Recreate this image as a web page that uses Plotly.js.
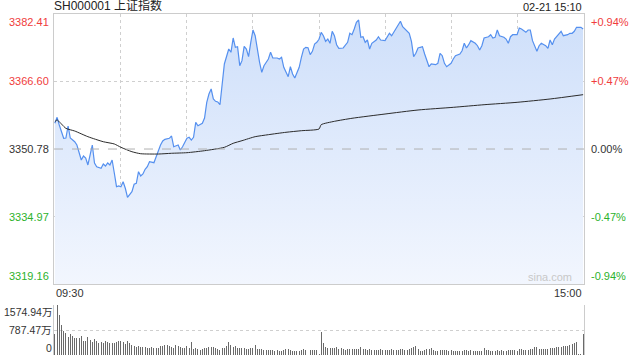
<!DOCTYPE html>
<html>
<head>
<meta charset="utf-8">
<script src="https://cdn.plot.ly/plotly-3.0.1.min.js"></script>
<style>
html,body{margin:0;padding:0;background:#fff;}
#chart{width:640px;height:360px;}
</style>
</head>
<body>
<div id="chart"></div>
<script>
// ---- data ----
const chartTitle = 'SH000001 上证指数';
const stampText = '02-21 15:10';
const prevClose = 3350.78;
const priceTicks = [3382.41, 3366.60, 3350.78, 3334.97, 3319.16];
const priceTickLabels = ['3382.41', '3366.60', '3350.78', '3334.97', '3319.16'];
const pctTickLabels = ['+0.94%', '+0.47%', '0.00%', '-0.47%', '-0.94%'];
const volTicks = [0, 787.47, 1574.94];
const volTickLabels = ['0', '787.47万', '1574.94万'];
const timeLabels = ['09:30', '15:00'];
const gridMinutes = [30, 60, 90, 120, 150, 180, 210];

// minute index (0 = 09:30, 120 = 11:30/13:00, 240 = 15:00)
const priceMinutes = [0,1,2,4,5,6,7,9,10,12,13,14,15,16,17,18,19,21,22,23,24,25,26,27,28,29,30,31,32,33,35,36,37,38,39,40,41,42,43,45,46,47,48,49,50,52,53,54,56,57,58,60,61,62,63,64,65,67,68,69,70,71,72,73,74,75,76,77,79,80,81,82,83,84,85,86,87,88,89,90,91,92,93,94,95,97,98,99,101,102,103,104,106,107,108,109,111,112,113,114,115,116,117,118,119,120,121,122,123,124,125,126,127,128,129,131,133,134,135,136,137,138,139,140,141,142,143,144,146,147,148,150,152,153,154,155,156,157,158,159,161,162,163,164,165,166,167,168,170,171,173,174,175,176,177,178,180,181,182,184,185,186,187,188,189,191,192,193,194,195,197,198,199,200,201,202,204,205,206,207,208,210,211,212,214,215,216,217,219,220,221,223,224,225,226,227,229,230,231,233,234,235,236,237,239,240];
const priceValues = [3356.81,3358.21,3356.41,3353.29,3353.36,3356.17,3353.36,3352.49,3351.72,3348.21,3349.15,3348.68,3347.04,3349.85,3351.72,3347.51,3346.64,3346.26,3347.27,3346.80,3347.51,3347.04,3348.21,3345.16,3341.95,3342.12,3341.95,3343.12,3341.58,3339.47,3340.78,3342.52,3342.75,3345.47,3344.46,3344.93,3346.03,3346.64,3347.81,3347.58,3348.98,3350.32,3351.72,3352.66,3353.06,3353.29,3353.83,3351.32,3351.72,3350.55,3351.32,3353.29,3353.53,3352.89,3353.53,3357.04,3356.24,3356.81,3358.05,3361.72,3363.67,3364.84,3362.50,3361.96,3361.80,3361.16,3366.01,3370.70,3374.21,3373.44,3376.79,3374.61,3374.75,3370.30,3371.47,3374.84,3374.21,3372.41,3375.78,3378.66,3377.33,3373.81,3371.10,3368.75,3370.30,3371.87,3373.44,3372.10,3372.10,3371.87,3372.27,3369.92,3367.72,3370.06,3368.35,3367.42,3369.92,3372.27,3374.21,3374.61,3374.52,3372.88,3373.67,3375.38,3375.78,3376.50,3378.12,3377.33,3376.01,3376.55,3375.55,3378.36,3377.33,3375.22,3374.37,3374.45,3375.78,3377.89,3377.56,3378.90,3380.47,3381.00,3376.95,3377.09,3375.78,3376.32,3374.21,3375.55,3376.32,3377.09,3376.32,3376.16,3377.89,3377.33,3378.12,3378.90,3379.67,3380.70,3379.43,3378.90,3377.89,3376.01,3372.41,3373.20,3374.45,3374.61,3374.75,3373.04,3370.06,3370.70,3370.53,3370.86,3373.20,3372.64,3370.86,3370.06,3370.86,3371.87,3372.64,3373.04,3373.81,3375.55,3374.45,3375.22,3376.16,3375.55,3374.98,3373.98,3374.98,3376.79,3377.09,3377.56,3376.79,3376.95,3378.66,3377.33,3376.95,3376.55,3375.55,3377.09,3377.56,3377.56,3379.13,3378.90,3378.12,3378.66,3378.66,3376.16,3373.67,3374.98,3375.55,3374.98,3374.37,3376.32,3375.22,3376.55,3377.89,3378.36,3377.33,3377.56,3377.89,3377.89,3378.36,3379.29,3379.29,3378.90];

const avgMinutes = [0,1,5,9,15,22,27,30,35,39,47,53,60,68,77,81,85,91,97,105,112,120,121,127,135,150,165,181,195,210,225,240];
const avgValues = [3357.18,3357.58,3355.63,3355.00,3353.67,3352.49,3351.96,3351.18,3350.15,3349.68,3349.61,3349.78,3349.92,3350.39,3351.18,3352.12,3352.73,3353.67,3354.14,3354.70,3355.07,3355.47,3356.48,3357.27,3357.98,3358.98,3359.92,3360.55,3361.16,3361.72,3362.50,3363.51];

// volume per minute, in 万
const volMorning = [651,1574.94,1260,945,756,682,556,651,588,525,
 525,525,588,441,441,556,472,409,504,441,
 378,409,378,441,409,378,378,378,409,441,
 441,409,346,441,378,304,273,241,273,241,
 241,241,210,210,241,210,210,210,273,273,
 304,304,273,241,210,304,273,241,210,210,273,
 210,399,178,210,178,147,178,210,210,241,
 241,241,210,178,147,210,210,273,399,304,
 241,273,210,210,210,210,178,178,210,210,
 304,178,178,178,147,147,147,147,147,115,
 147,115,115,147,178,178,147,115,115,115,
 115,147,178,147,147,147,147,147,147,21];
const volAfternoon = [735,367,262,210,210,210,210,241,178,210,
 178,147,178,178,178,178,178,178,241,178,
 178,147,178,147,147,147,147,178,147,147,
 147,147,178,147,147,147,178,178,147,147,
 178,210,241,273,178,115,115,147,178,178,
 210,147,115,115,147,147,147,147,115,147,
 115,115,115,115,115,147,147,115,147,115,
 115,115,115,115,210,147,147,115,115,115,
 147,115,147,115,115,147,147,147,147,115,
 178,178,147,147,147,178,178,241,241,178,
 178,178,178,178,210,210,210,241,241,241,
 273,273,273,304,336,367,399,21,21,651];

// ---- build chart ----
const volumes = volMorning.concat(volAfternoon);
const volMinutes = volumes.map((v, i) => i);

const FONT = 'Liberation Sans, Arial, Noto Sans CJK SC, sans-serif';
const RED = '#f03c3c', GREEN = '#2cb22c', DARK = '#333333';
const tickColors = [RED, RED, DARK, GREEN, GREEN];
const yAnchors = ['top', 'middle', 'middle', 'middle', 'bottom'];

const traces = [
  {
    x: priceMinutes, y: priceValues, type: 'scatter', mode: 'lines',
    xaxis: 'x', yaxis: 'y',
    line: {color: '#5590ef', width: 1.2},
    fill: 'tozeroy',
    fillgradient: {type: 'vertical', start: priceTicks[4], stop: priceTicks[0],
      colorscale: [[0, 'rgba(242,246,254,1)'], [1, 'rgba(206,223,250,1)']]},
    hoverinfo: 'skip'
  },
  {
    x: avgMinutes, y: avgValues, type: 'scatter', mode: 'lines',
    xaxis: 'x', yaxis: 'y',
    line: {color: '#2b2b2b', width: 1, shape: 'spline', smoothing: 0.6},
    hoverinfo: 'skip'
  },
  {
    x: volMinutes, y: volumes, type: 'bar', xaxis: 'x2', yaxis: 'y2',
    marker: {color: '#6a6a6a', line: {width: 0}}, width: 0.45,
    hoverinfo: 'skip'
  }
];

const annotations = [];
priceTicks.forEach((v, i) => {
  annotations.push({xref: 'paper', yref: 'y', x: 0, y: v, xanchor: 'right', yanchor: yAnchors[i],
    xshift: -3, text: priceTickLabels[i], showarrow: false, font: {family: FONT, size: 11, color: tickColors[i]}});
  annotations.push({xref: 'paper', yref: 'y', x: 1, y: v, xanchor: 'left', yanchor: yAnchors[i],
    xshift: 5, text: pctTickLabels[i], showarrow: false, font: {family: FONT, size: 11, color: tickColors[i]}});
});
const volAnchors = ['bottom', 'middle', 'top'];
volTicks.forEach((v, i) => {
  annotations.push({xref: 'paper', yref: 'y2', x: 0, y: v, xanchor: 'right', yanchor: volAnchors[i],
    xshift: -1, borderpad: 0, text: volTickLabels[i], showarrow: false,
    font: {family: FONT, size: 10.5, color: DARK}});
});
const mainBottom = 71 / 341;
annotations.push({xref: 'paper', yref: 'paper', x: 0, y: mainBottom, xanchor: 'left', yanchor: 'top',
  yshift: -1, text: timeLabels[0], showarrow: false, font: {family: FONT, size: 11, color: DARK}});
annotations.push({xref: 'paper', yref: 'paper', x: 1, y: mainBottom, xanchor: 'right', yanchor: 'top',
  yshift: -1, text: timeLabels[1], showarrow: false, font: {family: FONT, size: 11, color: DARK}});
annotations.push({xref: 'paper', yref: 'paper', x: 1, y: mainBottom, xanchor: 'right', yanchor: 'bottom',
  xshift: -10, yshift: -1, text: 'sina.com', showarrow: false, font: {family: FONT, size: 11, color: '#c8c8c8'}});
annotations.push({xref: 'paper', yref: 'paper', x: 0, y: 1, xanchor: 'left', yanchor: 'bottom',
  xshift: -2, yshift: -1, text: chartTitle, showarrow: false, font: {family: FONT, size: 12, color: '#222'}});
annotations.push({xref: 'paper', yref: 'paper', x: 1, y: 1, xanchor: 'right', yanchor: 'bottom',
  yshift: -1, text: stampText, showarrow: false, font: {family: FONT, size: 11, color: '#222'}});

const layout = {
  width: 640, height: 360,
  margin: {l: 54, r: 56, t: 14, b: 5, pad: 0},
  paper_bgcolor: '#ffffff', plot_bgcolor: '#ffffff',
  showlegend: false, hovermode: false, bargap: 0,
  xaxis: {domain: [0, 1], range: [-0.4, 240.4], anchor: 'y', showticklabels: false,
    tickvals: gridMinutes, ticks: '', showgrid: true, gridcolor: '#cfcfcf', griddash: 'dot', gridwidth: 1,
    zeroline: false, showline: true, mirror: true, linecolor: '#cccccc', linewidth: 1},
  yaxis: {domain: [mainBottom, 1], range: [priceTicks[4], priceTicks[0]], anchor: 'x',
    tickvals: [priceTicks[1], priceTicks[3]], showticklabels: false, ticks: '',
    showgrid: true, gridcolor: '#cfcfcf', griddash: 'dot', gridwidth: 1,
    zeroline: false, showline: true, mirror: true, linecolor: '#cccccc', linewidth: 1},
  xaxis2: {domain: [0, 1], range: [-0.4, 240.4], anchor: 'y2', showticklabels: false, ticks: '',
    showgrid: false, zeroline: false, showline: false},
  yaxis2: {domain: [0, 50 / 341], range: [0, volTicks[2]], anchor: 'x2',
    tickvals: volTicks, showticklabels: false, ticks: '',
    showgrid: true, gridcolor: '#cfcfcf', griddash: 'dot', gridwidth: 1,
    zeroline: false, showline: true, mirror: true, linecolor: '#cccccc', linewidth: 1},
  shapes: [
    {type: 'line', xref: 'paper', yref: 'y', x0: 0, x1: 1, y0: prevClose, y1: prevClose,
      line: {color: '#b0b0b0', width: 1, dash: 'dash'}, layer: 'above'}
  ],
  annotations: annotations
};

Plotly.newPlot('chart', traces, layout, {staticPlot: true, displayModeBar: false});
</script>
</body>
</html>
